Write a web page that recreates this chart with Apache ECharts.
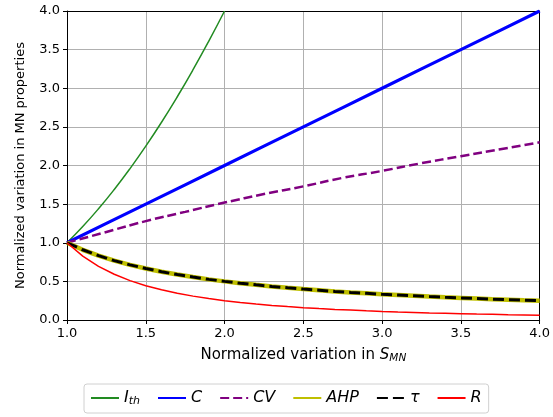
<!DOCTYPE html>
<html>
<head>
<meta charset="utf-8">
<script src="https://cdn.jsdelivr.net/npm/echarts@6/dist/echarts.min.js"></script>
<style>html,body{margin:0;padding:0;background:#fff}#c{width:553px;height:417px}</style>
</head>
<body>
<div id="c"></div>
<script>
// Data
const xsFine = [1.0, 1.1, 1.2, 1.3, 1.4, 1.5, 1.6, 1.7, 1.8, 1.9, 2.0, 2.1, 2.2, 2.3, 2.4, 2.5,
  2.6, 2.7, 2.8, 2.9, 3.0, 3.1, 3.2, 3.3, 3.4, 3.5, 3.6, 3.7, 3.8, 3.9, 4.0];
const xsCoarse = [1.0, 1.25, 1.5, 1.75, 2.0, 2.25, 2.5, 2.75, 3.0, 3.25, 3.5, 3.75, 4.0];
const xsIth = [1.0, 1.1, 1.2, 1.3, 1.4, 1.5, 1.6, 1.7, 1.8, 1.9, 2.0];
const Ith = [1.0, 1.21, 1.44, 1.69, 1.96, 2.25, 2.56, 2.89, 3.24, 3.61, 4.0];
const C = [1.0, 1.25, 1.5, 1.75, 2.0, 2.25, 2.5, 2.75, 3.0, 3.25, 3.5, 3.75, 4.0];
const CV = [1.0, 1.14, 1.28, 1.40, 1.52, 1.63, 1.73, 1.84, 1.93, 2.03, 2.12, 2.21, 2.30];
const AHP = [1.0, 0.909, 0.833, 0.769, 0.714, 0.667, 0.625, 0.588, 0.556, 0.526, 0.5, 0.476, 0.455,
  0.435, 0.417, 0.4, 0.385, 0.370, 0.357, 0.345, 0.333, 0.323, 0.313, 0.303, 0.294, 0.286,
  0.278, 0.270, 0.263, 0.256, 0.25];
const TAU = [1.0, 0.909, 0.833, 0.769, 0.714, 0.667, 0.625, 0.588, 0.556, 0.526, 0.5, 0.476, 0.455,
  0.435, 0.417, 0.4, 0.385, 0.370, 0.357, 0.345, 0.333, 0.323, 0.313, 0.303, 0.294, 0.286,
  0.278, 0.270, 0.263, 0.256, 0.25];
const R = [1.0, 0.826, 0.694, 0.592, 0.510, 0.444, 0.391, 0.346, 0.309, 0.277, 0.25, 0.227, 0.207,
  0.189, 0.174, 0.16, 0.148, 0.137, 0.128, 0.119, 0.111, 0.104, 0.098, 0.092, 0.087, 0.082,
  0.077, 0.073, 0.069, 0.066, 0.0625];
const xTicks = [1.0, 1.5, 2.0, 2.5, 3.0, 3.5, 4.0];
const yTicks = [0.0, 0.5, 1.0, 1.5, 2.0, 2.5, 3.0, 3.5, 4.0];

const names = ['Ith', 'C', 'CV', 'AHP', 'tau', 'R'];
const legendLabel = {
  Ith: '{it|I}{sub|th}', C: '{it|C}', CV: '{it|CV}', AHP: '{it|AHP}', tau: '{it|τ}', R: '{it|R}'
};
const pair = (x, y) => x.map((v, i) => [v, y[i]]);
const FONT = 'DejaVu Sans';

const frameAxis = (pos, min, max) => ({
  type: 'value', position: pos, min: min, max: max,
  axisLine: {show: true, onZero: false, lineStyle: {color: '#000', width: 1}},
  axisTick: {show: false}, axisLabel: {show: false}, splitLine: {show: false}
});

const chart = echarts.init(document.getElementById('c'), null, {renderer: 'canvas'});
chart.setOption({
  animation: false,
  backgroundColor: '#fff',
  grid: {left: 67, right: 11, top: 11, bottom: 97},
  xAxis: [{
    type: 'value', min: 1, max: 4, interval: 0.5, position: 'bottom',
    name: '{n|Normalized variation in }{it|S}{sub|MN}',
    nameLocation: 'middle', nameGap: 26,
    nameTextStyle: {
      rich: {
        n: {fontFamily: FONT, fontSize: 15, color: '#000'},
        it: {fontFamily: FONT, fontSize: 15, fontStyle: 'italic', color: '#000'},
        sub: {fontFamily: FONT, fontSize: 10.5, fontStyle: 'italic', color: '#000', verticalAlign: 'bottom', padding: [7, 0, 0, 0]}
      }
    },
    axisLine: {show: true, onZero: false, lineStyle: {color: '#000', width: 1}},
    axisTick: {show: true, inside: false, length: 4, lineStyle: {color: '#000'}},
    axisLabel: {fontFamily: FONT, fontSize: 13, color: '#000', margin: 7,
      formatter: v => xTicks.includes(v) ? v.toFixed(1) : ''},
    splitLine: {show: true, lineStyle: {color: '#b0b0b0', width: 1}}
  }, frameAxis('top', 1, 4)],
  yAxis: [{
    type: 'value', min: 0, max: 4, interval: 0.5, position: 'left',
    name: 'Normalized variation in MN properties',
    nameLocation: 'middle', nameGap: 40,
    nameTextStyle: {fontFamily: FONT, fontSize: 13, color: '#000'},
    axisLine: {show: true, onZero: false, lineStyle: {color: '#000', width: 1}},
    axisTick: {show: true, inside: false, length: 4, lineStyle: {color: '#000'}},
    axisLabel: {fontFamily: FONT, fontSize: 13, color: '#000', margin: 7,
      formatter: v => yTicks.includes(v) ? v.toFixed(1) : ''},
    splitLine: {show: true, lineStyle: {color: '#b0b0b0', width: 1}}
  }, frameAxis('right', 0, 4)],
  legend: {
    top: 384, left: 84,
    data: names,
    itemWidth: 28, itemHeight: 14, itemGap: 17,
    padding: [6, 7, 6, 6],
    borderColor: '#d0d0d0', borderWidth: 1, borderRadius: 3,
    itemStyle: {opacity: 0, borderWidth: 0},
    formatter: n => legendLabel[n],
    textStyle: {
      fontFamily: FONT, fontSize: 16, color: '#000',
      rich: {
        it: {fontFamily: FONT, fontSize: 16, fontStyle: 'italic', color: '#000'},
        sub: {fontFamily: FONT, fontSize: 11, fontStyle: 'italic', color: '#000', verticalAlign: 'bottom', padding: [7, 0, 0, 0]}
      }
    }
  },
  series: [
    {name: 'Ith', type: 'line', data: pair(xsIth, Ith), smooth: true, symbol: 'none',
      lineStyle: {color: '#228b22', width: 1.5}, itemStyle: {color: '#228b22'}, z: 2},
    {name: 'C', type: 'line', data: pair(xsCoarse, C), symbol: 'none',
      lineStyle: {color: '#0000ff', width: 3.2}, itemStyle: {color: '#0000ff'}, z: 3},
    {name: 'CV', type: 'line', data: pair(xsCoarse, CV), smooth: true, symbol: 'none',
      lineStyle: {color: '#800080', width: 2.5, type: [9, 4]}, itemStyle: {color: '#800080'}, z: 4},
    {name: 'AHP', type: 'line', data: pair(xsFine, AHP), symbol: 'none',
      lineStyle: {color: '#bfbf00', width: 4.5}, itemStyle: {color: '#bfbf00'}, z: 5},
    {name: 'tau', type: 'line', data: pair(xsFine, TAU), symbol: 'none',
      lineStyle: {color: '#000000', width: 3, type: [11, 5]}, itemStyle: {color: '#000000'}, z: 6},
    {name: 'R', type: 'line', data: pair(xsFine, R), symbol: 'none',
      lineStyle: {color: '#ff0000', width: 1.5}, itemStyle: {color: '#ff0000'}, z: 7}
  ]
});
</script>
</body>
</html>
